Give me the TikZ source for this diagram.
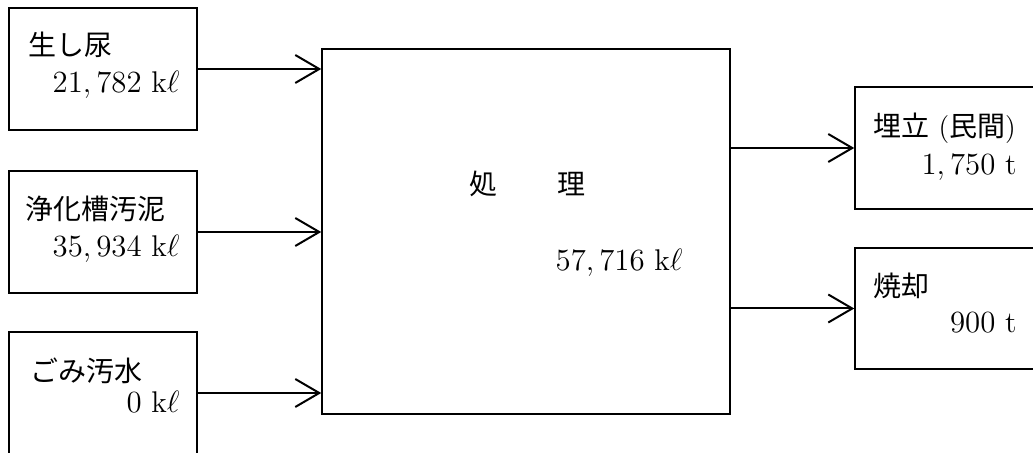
\documentclass[tikz,border=0pt]{standalone}
\usepackage{fontspec}
\newfontfamily\cjk{Noto Sans CJK JP}
\usetikzlibrary{arrows.meta}
\newcommand{\amount}[1]{\scalebox{1.07}{$#1$}}

\begin{document}
\begin{tikzpicture}[x=0.5pt, y=-0.5pt, font=\fontsize{14pt}{17pt}\selectfont,
    box/.style = {draw, line width=0.75pt, minimum width=94pt, minimum height=61pt, inner sep=0pt},
    lbl/.style = {inner sep=0pt, anchor=base west},
    val/.style = {inner sep=0pt, anchor=base east},
    flow/.style = {line width=1pt, -{Straight Barb[length=12pt,width=14pt,line width=1pt]}}]
          \clip (0,0) rectangle (1033,453);

          \node[box] (raw) at (103,69) {};
          \node[box] (sludge) at (103,232) {};
          \node[box] (waste) at (103,393) {};
          \node[box, minimum width=204pt, minimum height=182.5pt] (proc) at (526,231.5) {};
          \node[box] (landfill) at (949,148) {};
          \node[box, minimum height=60.5pt] (burn) at (949,308.5) {};

          \node[lbl] (raw_t) at (28,56) {\cjk 生し尿};
          \node[val] (raw_v) at (180,93) {\amount{21,782\ \mathrm{k}\ell}};
          \node[lbl] (sludge_t) at (25,220) {\cjk 浄化槽汚泥};
          \node[val] (sludge_v) at (180,257) {\amount{35,934\ \mathrm{k}\ell}};
          \node[lbl] (waste_t) at (30,382) {\cjk ごみ汚水};
          \node[val] (waste_v) at (180,413) {\amount{0\ \mathrm{k}\ell}};
          \node[lbl] (proc_t) at (469,195) {\cjk 処\hspace{30pt}理};
          \node[val] (proc_v) at (683,271) {\amount{57,716\ \mathrm{k}\ell}};
          \node[lbl] (landfill_t) at (873,137) {{\cjk 埋立} ({\cjk 民間})};
          \node[val] (landfill_v) at (1017,175) {\amount{1,750\ \mathrm{t}}};
          \node[lbl] (burn_t) at (873,297) {\cjk 焼却};
          \node[val] (burn_v) at (1017,333) {\amount{900\ \mathrm{t}}};

          \draw[flow] (raw.east) -- (raw.east -| proc.west);
          \draw[flow] (sludge.east) -- (sludge.east -| proc.west);
          \draw[flow] (waste.east) -- (waste.east -| proc.west);
          \draw[flow] (landfill.west -| proc.east) -- (landfill.west);
          \draw[flow] (burn.west -| proc.east) -- (burn.west);
        \end{tikzpicture}
\end{document}
